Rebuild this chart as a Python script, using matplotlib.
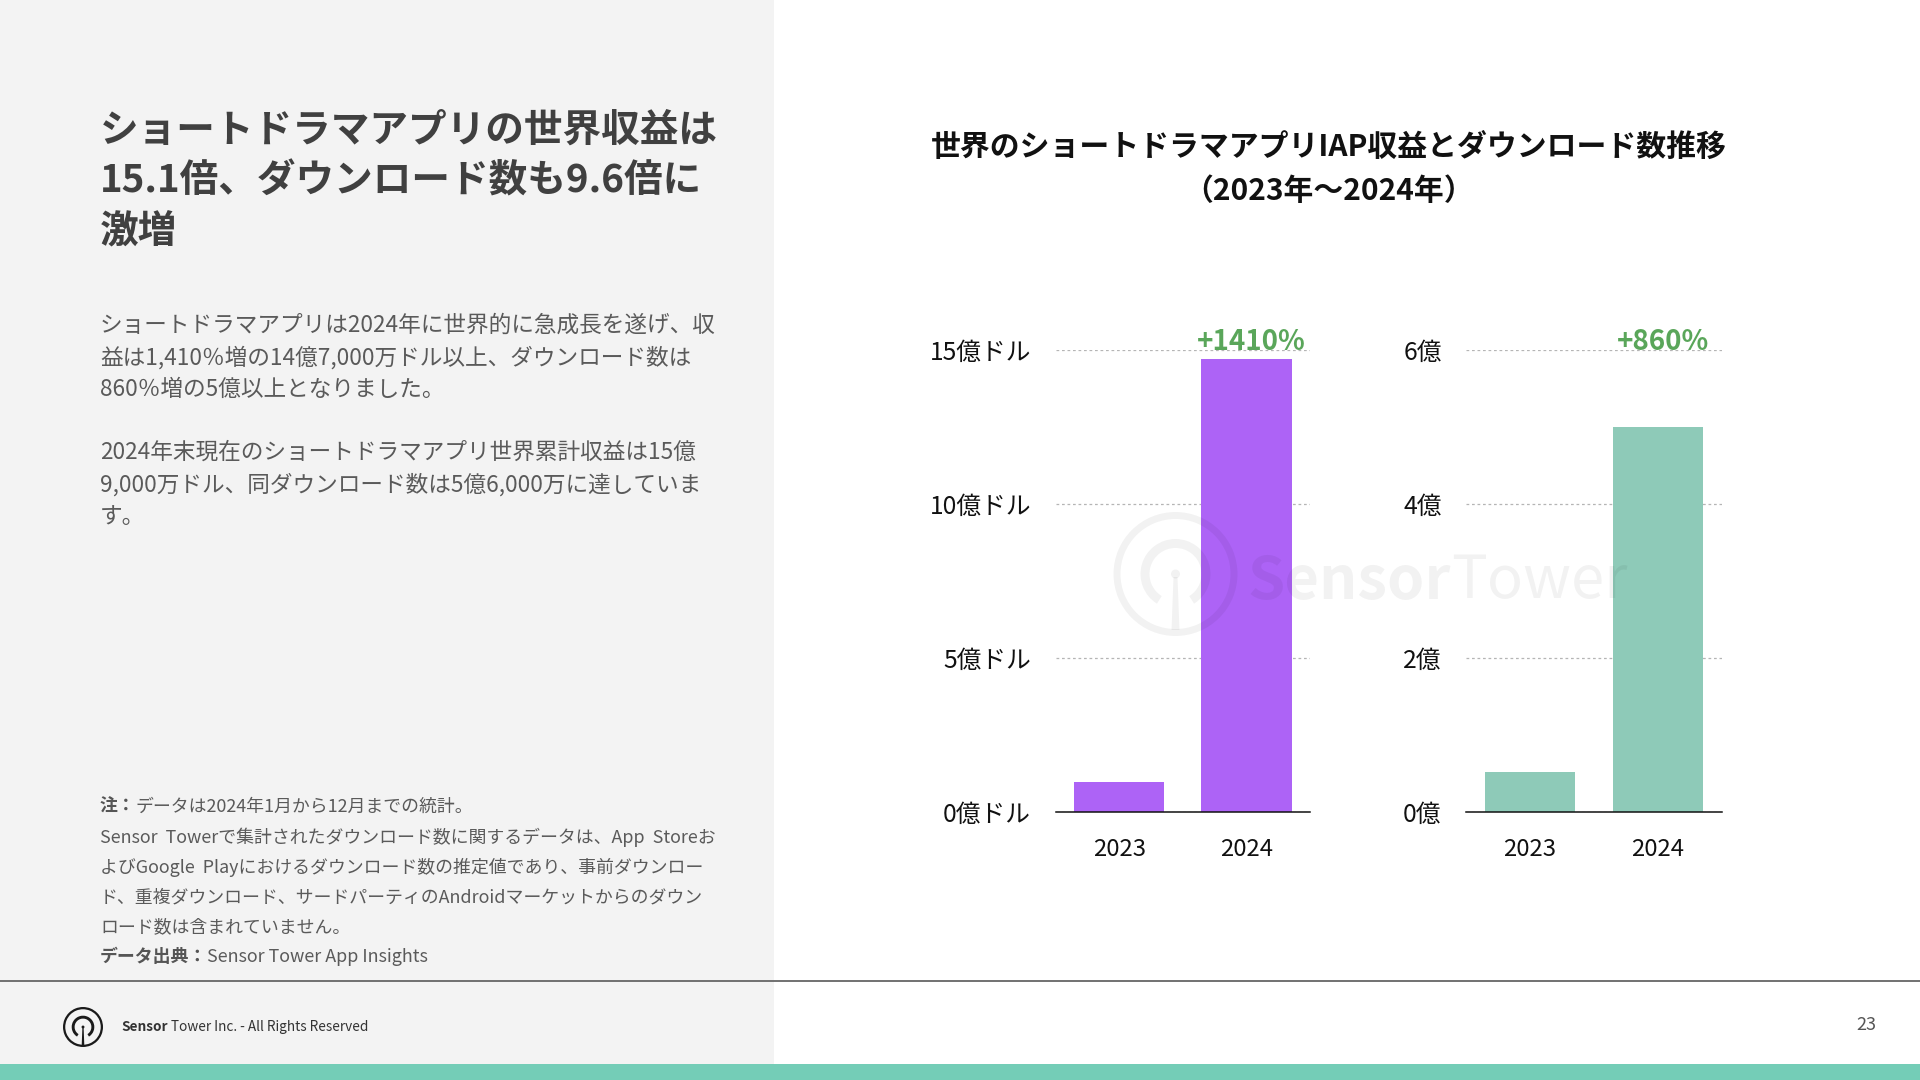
import matplotlib
matplotlib.use("Agg")
import matplotlib.pyplot as plt
from matplotlib.patches import Rectangle, Circle, Wedge, Polygon

plt.rcParams["font.family"] = ["Noto Sans CJK JP", "DejaVu Sans"]

# ---------------------------------------------------------------------------
# donnees
# ---------------------------------------------------------------------------
ANNEES = ["2023", "2024"]
REVENU = [0.97, 14.7]          # 億ドル
TELECHARGEMENTS = [0.52, 5.0]  # 億
CROISSANCE = ["+1410%", "+860%"]
TICKS_REVENU = [0, 5, 10, 15]
TICKS_DL = [0, 2, 4, 6]

TITRE = ["ショートドラマアプリの世界収益は",
         "15.1倍、ダウンロード数も9.6倍に",
         "激増"]
CORPS = ["ショートドラマアプリは2024年に世界的に急成長を遂げ、収",
         "益は1,410％増の14億7,000万ドル以上、ダウンロード数は",
         "860％増の5億以上となりました。",
         "",
         "2024年末現在のショートドラマアプリ世界累計収益は15億",
         "9,000万ドル、同ダウンロード数は5億6,000万に達していま",
         "す。"]
NOTES = ["Sensor  Towerで集計されたダウンロード数に関するデータは、App  Storeお",
         "よびGoogle  Playにおけるダウンロード数の推定値であり、事前ダウンロー",
         "ド、重複ダウンロード、サードパーティのAndroidマーケットからのダウン",
         "ロード数は含まれていません。"]
TITRE_GRAPHE = ["世界のショートドラマアプリIAP収益とダウンロード数推移",
                "（2023年〜2024年）"]

VIOLET, VERT_EAU, VERT = "#ad63f6", "#8ecab8", "#5aa65a"
GRIS_FOND, BANDE = "#f3f3f3", "#74cdb7"
W, H = 1920, 1080

fig = plt.figure(figsize=(W / 100, H / 100), dpi=100)
fig.patch.set_facecolor("white")


def fx(x):
    return x / W


def fy(y):
    return 1 - y / H


# fond : panneau gris, filet, bande du bas
bg = fig.add_axes([0, 0, 1, 1], zorder=-5)
bg.set_xlim(0, W)
bg.set_ylim(H, 0)
bg.axis("off")
bg.add_patch(Rectangle((0, 0), 774, 1064, color=GRIS_FOND, lw=0))
bg.add_patch(Rectangle((0, 1064), W, 16, color=BANDE, lw=0))
bg.plot([0, W], [981, 981], color="#666666", lw=1.3)


def logo(ax, cx, cy, r, col, alpha=1.0):
    """logo Sensor Tower : anneau, arc ouvert en bas, point et tige."""
    k = r / 62
    ax.add_patch(Wedge((cx, cy), 62 * k, 0, 360, width=7 * k, color=col, alpha=alpha, lw=0))
    ax.add_patch(Wedge((cx, cy), 35 * k, 122, 418, width=9 * k, color=col, alpha=alpha, lw=0))
    ax.add_patch(Circle((cx, cy), 4.5 * k, color=col, alpha=alpha, lw=0))
    ax.add_patch(Polygon([(cx - 2 * k, cy + 3 * k), (cx + 2 * k, cy + 3 * k),
                          (cx + 4 * k, cy + 56 * k), (cx - 4 * k, cy + 56 * k)],
                         closed=True, color=col, alpha=alpha, lw=0))


def suite(t, texte, **kw):
    """texte colle a droite d'un autre (changement de graisse sur une ligne)."""
    fig.add_artist(plt.Annotation(texte, xy=(1, 0), xycoords=t, va="bottom", ha="left", **kw))


# pied de page
logo(bg, 83, 1027, 20, "#1a1a1a")
t = fig.text(fx(121), fy(1027), "Sensor", fontsize=9.8, weight="bold",
             color="#333333", va="center")
suite(t, " Tower Inc. - All Rights Reserved", fontsize=9.8, color="#333333")
fig.text(fx(1866), fy(1025), "23", fontsize=13, color="#555555", ha="center", va="center")

# texte de gauche
for ligne, y in zip(TITRE, [130, 181, 232]):
    fig.text(fx(100), fy(y), ligne, fontsize=27.8, weight="bold", color="#404040", va="center")

for i, ligne in enumerate(CORPS):
    if ligne:
        fig.text(fx(100), fy(325.5 + 31.8 * i), ligne, fontsize=16.3, color="#5a5a5a", va="center")

t = fig.text(fx(100), fy(807), "注：", fontsize=12.9, weight="bold", color="#555555", va="center")
suite(t, "データは2024年1月から12月までの統計。", fontsize=12.9, color="#5a5a5a")
for i, ligne in enumerate(NOTES):
    fig.text(fx(100), fy(837 + 30 * i), ligne, fontsize=12.9, color="#5a5a5a", va="center")
t = fig.text(fx(100), fy(957), "データ出典：", fontsize=12.9, weight="bold", color="#555555", va="center")
suite(t, "Sensor Tower App Insights", fontsize=12.9, color="#5a5a5a")

# titre du graphique
for ligne, y in zip(TITRE_GRAPHE, [147, 191]):
    fig.text(fx(1329), fy(y), ligne, fontsize=21.5, weight="bold", color="#111111",
             ha="center", va="center")


def barres(x0, x1, valeurs, ticks, fmt, couleur, label):
    ax = fig.add_axes([fx(x0), fy(812), fx(x1 - x0), (812 - 350) / H])
    ax.patch.set_alpha(0)
    ax.bar(range(len(ANNEES)), valeurs, width=0.71, color=couleur, zorder=3)
    ax.set_xlim(-0.5, 1.5)
    ax.set_ylim(0, ticks[-1])
    ax.set_yticks(ticks)
    ax.set_yticklabels([fmt.format(v) for v in ticks])
    ax.set_xticks(range(len(ANNEES)))
    ax.set_xticklabels(ANNEES)
    ax.tick_params(length=0, colors="#111111")
    ax.tick_params(axis="y", pad=17.5, labelsize=17.8)
    ax.tick_params(axis="x", pad=19, labelsize=17.2)
    ax.grid(True, axis="y", color="#b5b5b5", lw=0.9, ls=(0, (2.2, 2.2)), zorder=0)
    ax.set_axisbelow(True)
    for s in ("top", "right", "left"):
        ax.spines[s].set_visible(False)
    ax.spines["bottom"].set_color("#111111")
    ax.spines["bottom"].set_linewidth(1.1)
    ax.spines["bottom"].set_zorder(4)
    ax.annotate(label, xy=(1, ticks[-1]), xytext=(3.5, 5.5), textcoords="offset points",
                ha="center", va="center", fontsize=20, weight="bold", color=VERT,
                annotation_clip=False)
    return ax


barres(1055.5, 1310, REVENU, TICKS_REVENU, "{}億ドル", VIOLET, CROISSANCE[0])
barres(1466, 1722, TELECHARGEMENTS, TICKS_DL, "{}億", VERT_EAU, CROISSANCE[1])

# filigrane par-dessus les barres
wm = fig.add_axes([0, 0, 1, 1], zorder=20)
wm.set_xlim(0, W)
wm.set_ylim(H, 0)
wm.axis("off")
logo(wm, 1175.5, 574, 62, "black", alpha=0.05)
t = wm.text(1248, 599, "Sensor", fontsize=43, weight="bold", color="black", alpha=0.05,
            va="baseline", ha="left")
wm.annotate("Tower", xy=(1, 0), xycoords=t, va="bottom", ha="left", fontsize=43,
            color="black", alpha=0.05)

fig.savefig("out.png", dpi=100)
